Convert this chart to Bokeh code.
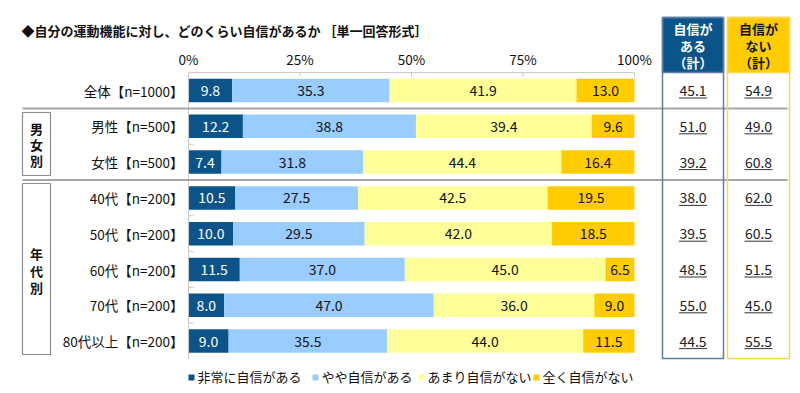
from bokeh.plotting import figure
from bokeh.models import ColumnDataSource, Range1d
from bokeh.core.properties import value
from bokeh.embed import file_html
from bokeh.resources import INLINE

# ---------------- data ----------------
categories = ["全体【n=1000】", "男性【n=500】", "女性【n=500】", "40代【n=200】",
              "50代【n=200】", "60代【n=200】", "70代【n=200】", "80代以上【n=200】"]
series_names = ["非常に自信がある", "やや自信がある", "あまり自信がない", "全く自信がない"]
very_confident = [9.8, 12.2, 7.4, 10.5, 10.0, 11.5, 8.0, 9.0]
somewhat_confident = [35.3, 38.8, 31.8, 27.5, 29.5, 37.0, 47.0, 35.5]
not_very_confident = [41.9, 39.4, 44.4, 42.5, 42.0, 45.0, 36.0, 44.0]
not_at_all_confident = [13.0, 9.6, 16.4, 19.5, 18.5, 6.5, 9.0, 11.5]
confident_total = [45.1, 51.0, 39.2, 38.0, 39.5, 48.5, 55.0, 44.5]
not_confident_total = [54.9, 49.0, 60.8, 62.0, 60.5, 51.5, 45.0, 55.5]
tick_values = [0, 25, 50, 75, 100]
tick_labels = ["0%", "25%", "50%", "75%", "100%"]
title_text = "◆自分の運動機能に対し、どのくらい自信があるか ［単一回答形式］"
group_labels = ["男女別", "年代別"]
header_conf = ["自信が", "ある", "（計）"]
header_noconf = ["自信が", "ない", "（計）"]

# ---------------- style ----------------
colors = ["#0B5489", "#99CCFF", "#FFFF99", "#FFCC00"]
label_colors = ["white", "#111111", "#111111", "#111111"]
FONT = value("Noto Sans CJK JP")
TXT = "#111111"

# pixel -> data helpers (layout only)
SX, X0 = 4.46, 188.0
RY, Y0 = 35.8, 90.0
def dx(px):
    return (px - X0) / SX
def dy(py):
    return (py - Y0) / RY

W, H = 791, 386
p = figure(width=W, height=H, x_range=Range1d(dx(0), dx(W)),
           y_range=Range1d(dy(H), dy(0)), output_backend="svg",
           toolbar_location=None, min_border=0, x_axis_location=None,
           y_axis_location=None)
p.grid.visible = False
p.outline_line_color = None
p.background_fill_color = "white"

n = len(categories)
rows = list(range(n))
bar_h = 23.5 / RY

# stacked bars
data_series = [very_confident, somewhat_confident, not_very_confident, not_at_all_confident]
left = [0.0] * n
for k, vals in enumerate(data_series):
    right = [l + v for l, v in zip(left, vals)]
    src = ColumnDataSource(dict(y=rows, left=left, right=right,
                                mid=[(l + r) / 2 for l, r in zip(left, right)],
                                lab=[f"{v:.1f}" for v in vals]))
    p.hbar(y="y", left="left", right="right", height=bar_h, source=src,
           fill_color=colors[k], line_color=None)
    p.text(x="mid", y="y", text="lab", source=src, text_font=FONT,
           text_font_size="14px", text_align="center", text_baseline="middle",
           text_color=label_colors[k])
    left = right

# axes lines & ticks
axis_col = "#C8C8C8"
p.segment(x0=[0], y0=[-0.5], x1=[100], y1=[-0.5], line_color=axis_col, line_width=1)
p.segment(x0=[0], y0=[-0.5], x1=[0], y1=[n - 0.5], line_color=axis_col, line_width=1)
p.segment(x0=tick_values[1:], y0=[-0.5] * 4, x1=tick_values[1:], y1=[-0.5 + 4 / RY] * 4,
          line_color=axis_col, line_width=1)
bounds = [i + 0.5 for i in range(n - 1)]
p.segment(x0=[0] * len(bounds), y0=bounds, x1=[dx(193)] * len(bounds), y1=bounds,
          line_color=axis_col, line_width=1)
p.text(x=tick_values, y=[dy(58)] * 5, text=tick_labels, text_font=FONT,
       text_font_size="13.5px", text_align="center", text_baseline="middle", text_color=TXT)

# category labels
p.text(x=[dx(183)] * n, y=rows, text=categories, text_font=FONT, text_font_size="13.5px",
       text_align="right", text_baseline="middle", text_color=TXT)

# title
p.text(x=[dx(21)], y=[dy(30)], text=[title_text], text_font=FONT, text_font_size="13px",
       text_font_style="bold", text_align="left", text_baseline="middle", text_color=TXT)

# separators
p.segment(x0=[dx(22)] * 2, y0=[0.5, 2.5], x1=[dx(787)] * 2, y1=[0.5, 2.5],
          line_color="#A6A6A6", line_width=2)

# group boxes
p.quad(left=[dx(22)] * 2, right=[dx(50)] * 2, top=[dy(112), dy(183)],
       bottom=[dy(175), dy(354)], fill_color=None, line_color="#8C8C8C", line_width=1.2)
gx = dx(36)
for lab, ys in zip(group_labels, [[128, 144, 160], [253, 270, 287]]):
    p.text(x=[gx] * 3, y=[dy(v) for v in ys], text=list(lab), text_font=FONT,
           text_font_size="13px", text_font_style="bold", text_align="center",
           text_baseline="middle", text_color=TXT)

# right summary boxes
for (xl, xr, fill, line, head, tcol, vals) in [
        (662, 723, "#0B5489", "#5B7FA6", header_conf, "white", confident_total),
        (727, 789, "#FFCC00", "#FFD54F", header_noconf, "#111111", not_confident_total)]:
    p.quad(left=[dx(xl)], right=[dx(xr)], top=[dy(17)], bottom=[dy(72)],
           fill_color=fill, line_color=line, line_width=1.5)
    p.quad(left=[dx(xl)], right=[dx(xr)], top=[dy(17)], bottom=[dy(358)],
           fill_color=None, line_color=line, line_width=1.5)
    cx = dx((xl + xr) / 2)
    p.text(x=[cx] * 3, y=[dy(28), dy(45), dy(62)], text=head, text_font=FONT,
           text_font_size="13px", text_font_style="bold", text_align="center",
           text_baseline="middle", text_color=tcol)
    p.text(x=[cx] * n, y=rows, text=[f"{v:.1f}" for v in vals], text_font=FONT,
           text_font_size="14px", text_align="center", text_baseline="middle",
           text_color="#222222")
    p.segment(x0=[cx - 14 / SX] * n, y0=[r + 7.5 / RY for r in rows],
              x1=[cx + 14 / SX] * n, y1=[r + 7.5 / RY for r in rows],
              line_color="#333333", line_width=1)

# legend
leg_sq = [188, 312, 418, 533]
p.rect(x=[dx(v + 3) for v in leg_sq], y=[dy(377)] * 4, width=6 / SX, height=6 / RY,
       fill_color=colors, line_color=None)
p.text(x=[dx(v + 9) for v in leg_sq], y=[dy(376)] * 4, text=series_names, text_font=FONT,
       text_font_size="13px", text_align="left", text_baseline="middle", text_color=TXT)

open("out.html", "w").write(file_html(p, INLINE))
